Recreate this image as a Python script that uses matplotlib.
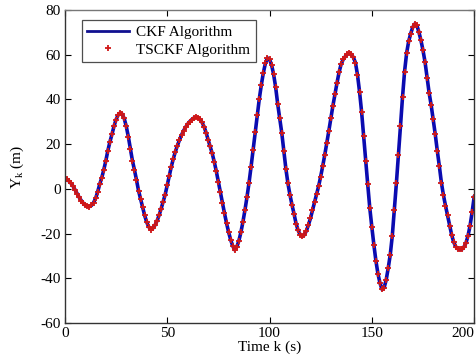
import matplotlib
matplotlib.use("Agg")
import matplotlib.pyplot as plt
import numpy as np

plt.rcParams['font.family'] = ['Liberation Serif', 'DejaVu Serif']
plt.rcParams['axes.unicode_minus'] = False

# time steps (s)
t = np.arange(0, 201)

# Y position (m) at each second
y_ckf = [
    4.9, 4.3, 3.5, 2.5, 1.2, -0.4, -2.1, -3.8, -5.2, -6.4,
    -7.3, -7.8, -7.9, -7.4, -6.2, -4.3, -1.4, 2.0, 4.9, 8.5,
    12.5, 17.1, 21.0, 24.4, 28.0, 31.0, 33.0, 34.0, 33.5, 31.5,
    28.0, 23.4, 18.0, 12.7, 8.5, 4.0, -0.8, -4.5, -8.3, -11.9,
    -14.9, -17.0, -18.2, -17.6, -16.3, -14.4, -11.9, -9.0, -5.8, -2.6,
    1.6, 5.8, 9.9, 13.5, 16.7, 19.4, 21.9, 24.1, 26.0, 27.6,
    29.0, 30.1, 31.0, 31.7, 32.1, 31.9, 31.1, 29.8, 27.9, 25.2,
    22.0, 19.0, 15.9, 12.1, 7.9, 3.3, -1.5, -6.3, -10.9, -15.3,
    -19.3, -22.7, -25.5, -27.3, -26.0, -23.3, -19.5, -14.8, -9.5, -3.6,
    2.8, 10.0, 17.6, 25.4, 33.0, 40.2, 46.5, 52.0, 56.2, 58.6,
    58.0, 55.5, 51.3, 45.5, 38.0, 31.5, 25.0, 17.0, 9.0, 2.5,
    -2.7, -7.2, -11.2, -15.6, -18.6, -20.5, -21.2, -20.6, -18.8, -16.2,
    -13.2, -9.5, -6.0, -2.4, 1.2, 5.5, 10.2, 15.2, 20.5, 26.0,
    31.8, 37.3, 42.5, 47.5, 52.2, 55.8, 57.9, 59.2, 60.3, 60.8,
    60.2, 58.8, 56.5, 51.0, 43.5, 34.5, 23.5, 12.5, 2.0, -8.5,
    -17.0, -25.0, -32.2, -38.0, -42.2, -45.0, -44.2, -40.8, -35.5, -29.5,
    -21.0, -9.5, 2.5, 15.0, 28.0, 41.0, 52.5, 60.7, 66.0, 69.5,
    72.3, 73.8, 73.2, 70.2, 66.5, 62.0, 56.8, 49.8, 43.0, 37.5,
    31.1, 24.4, 17.0, 10.2, 2.8, -2.8, -7.5, -11.9, -16.5, -20.5,
    -23.8, -25.8, -26.8, -27.1, -27.0, -26.0, -24.2, -21.0, -16.5, -10.5,
    -3.7,
]
# the two filters overlap on this scale
y_tsckf = list(y_ckf)

xticks = [0, 50, 100, 150, 200]
yticks = [-60, -40, -20, 0, 20, 40, 60, 80]

fig = plt.figure(figsize=(4.77, 3.56), dpi=100)
ax = fig.add_axes([0.136, 0.0927, 0.858, 0.879])

ax.plot(t, y_ckf, color='#0b0bb0', lw=2.6, label='CKF Algorithm')
ax.plot(t, y_tsckf, ls='none', marker='+', ms=4.5, mew=1.3,
        color='#d01818', label='TSCKF Algorithm')

ax.set_xlim(0, 200)
ax.set_ylim(-60, 80)
ax.set_xticks(xticks)
ax.set_yticks(yticks)
ax.tick_params(direction='in', top=True, right=True, labelsize=11,
               length=4, width=0.8, pad=3)
# last x label sits on the figure edge, keep it inside
ax.get_xticklabels()[-1].set_horizontalalignment('right')
for s in ax.spines.values():
    s.set_linewidth(1.0)
    s.set_color('#333333')
ax.spines['top'].set_color('#777777')

ax.set_xlabel('Time k (s)', fontsize=11, labelpad=0)
ax.set_ylabel('Y$_\\mathregular{k}$ (m)', fontsize=11)
ax.yaxis.set_label_coords(-0.095, 0.5)

leg = ax.legend(loc='upper left', bbox_to_anchor=(0.042, 0.968), fontsize=11,
                frameon=True, fancybox=False, edgecolor='#222222',
                borderpad=0.35, handlelength=2.7, handletextpad=0.5,
                labelspacing=0.25, borderaxespad=0.0)
leg.get_frame().set_linewidth(0.9)
leg.get_lines()[0].set_linewidth(2.0)
leg.get_lines()[0].set_color('#101090')

fig.savefig('out.png', dpi=100)
